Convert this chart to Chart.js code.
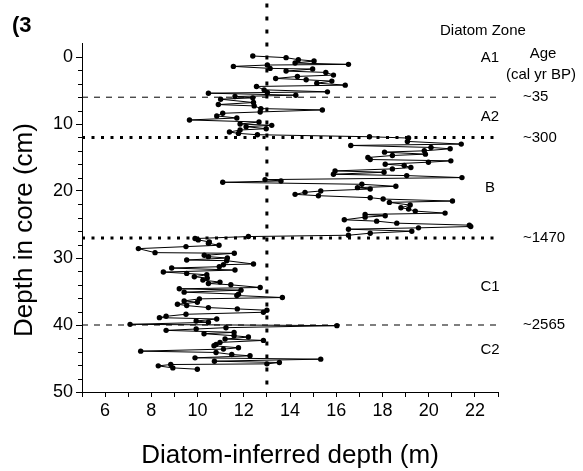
<!DOCTYPE html>
<html>
<head>
<meta charset="utf-8">
<script src="https://cdn.jsdelivr.net/npm/chart.js@4/dist/chart.umd.min.js"></script>
<style>
  html, body { margin: 0; padding: 0; background: #fff; }
</style>
</head>
<body>
<canvas id="chart" width="583" height="471"></canvas>
<script>
// depth in core (cm) and diatom-inferred depth (m)
const depthCm = [
  -0.15, 0.1, 0.4, 0.6, 0.9, 1.1, 1.2, 1.4, 1.7, 1.8, 2.1, 2.3, 2.7, 2.9, 3.2, 3.4, 3.6, 3.9, 4.2, 4.4,
  4.9, 5.2, 5.3, 5.4, 5.7, 5.9, 6.1, 6.3, 6.8, 7.1, 7.3, 7.7, 7.9, 8.2, 8.4, 8.8, 9.1, 9.4, 9.7, 10.0,
  10.2, 10.4, 10.7, 10.9, 11.2, 11.4, 11.6, 11.9, 12.1, 12.6, 13.0, 13.2, 13.5, 13.7, 14.0, 14.2, 14.5, 14.7, 15.0, 15.3,
  15.5, 15.7, 16.0, 16.2, 16.5, 16.7, 17.0, 17.2, 17.5, 17.7, 18.0, 18.3, 18.5, 18.7, 19.0, 19.3, 19.5, 19.7, 20.0, 20.2,
  20.5, 20.7, 21.0, 21.2, 21.5, 21.7, 22.1, 22.5, 22.7, 23.0, 23.3, 23.5, 23.7, 23.9, 24.3, 24.5, 24.8, 25.1, 25.3, 25.5,
  25.7, 26.0, 26.3, 26.6, 26.8, 27.1, 27.3, 27.6, 27.8, 28.1, 28.3, 28.6, 29.2, 29.3, 29.6, 29.8, 30.0, 30.3, 30.4, 30.9,
  31.0, 31.3, 31.5, 31.8, 32.1, 32.3, 32.5, 32.8, 33.0, 33.3, 33.6, 33.8, 34.0, 34.4, 34.6, 34.8, 35.1, 35.4, 35.6, 35.9,
  36.1, 36.4, 36.6, 36.9, 37.1, 37.4, 37.6, 37.8, 38.1, 38.4, 38.7, 38.9, 39.1, 39.4, 39.6, 39.9, 40.1, 40.4, 40.6, 40.8,
  41.1, 41.3, 41.6, 41.8, 42.1, 42.3, 42.6, 42.9, 43.1, 43.4, 43.6, 43.9, 44.1, 44.4, 44.6, 44.9, 45.1, 45.4, 45.6, 45.8,
  45.9, 46.1, 46.4, 46.6
];
const inferredDepth = [
  12.39, 13.83, 14.36, 15.04, 14.22, 16.53, 13.02, 11.55, 13.14, 14.98, 13.83, 15.55, 15.88, 14.32, 13.38, 14.7, 15.81, 15.16, 16.39, 12.55,
  12.88, 15.62, 13.02, 10.47, 14.25, 11.62, 12.39, 11.0, 12.42, 10.9, 12.45, 12.74, 15.4, 12.71, 11.09, 10.83, 11.7, 9.65, 12.66, 11.84,
  13.21, 12.1, 12.97, 11.84, 11.38, 11.77, 12.59, 17.44, 19.13, 19.08, 21.41, 16.63, 20.1, 20.93, 19.81, 18.09, 19.86, 18.43, 17.37, 17.47,
  20.96, 19.99, 18.12, 18.94, 19.23, 18.43, 15.95, 18.07, 15.88, 19.05, 21.44, 12.92, 13.61, 11.09, 17.11, 18.58, 16.92, 17.47, 15.33, 14.65,
  14.22, 15.23, 17.47, 18.03, 21.03, 18.3, 19.2, 18.8, 19.13, 19.42, 20.71, 17.25, 18.12, 17.25, 16.35, 17.75, 18.62, 21.76, 21.82, 19.56,
  16.53, 19.27, 17.47, 16.53, 12.2, 9.89, 10.03, 10.51, 10.47, 10.93, 9.5, 7.44, 8.16, 11.59, 10.29, 10.47, 11.29, 9.53, 11.26, 12.42,
  11.12, 10.94, 8.88, 11.62, 8.52, 9.53, 10.4, 9.86, 10.42, 10.23, 10.97, 10.47, 11.44, 12.71, 9.21, 11.88, 9.42, 11.77, 11.7, 13.67,
  10.08, 9.42, 9.99, 9.13, 9.53, 10.47, 11.72, 13.0, 12.85, 9.5, 8.64, 8.35, 10.83, 9.94, 10.47, 7.08, 16.03, 11.23, 9.94, 8.64,
  11.58, 10.28, 11.58, 12.2, 11.19, 12.85, 10.97, 10.8, 10.71, 11.77, 11.12, 7.54, 10.8, 11.48, 12.27, 9.89, 15.33, 10.73, 13.54, 13.0,
  8.84, 8.3, 8.93, 9.99
];

const xTickLabels = [6, 8, 10, 12, 14, 16, 18, 20, 22];
const yTickLabels = [0, 10, 20, 30, 40, 50];

// zone boundaries (cm) and their ages
const boundaryDepths = [6, 12, 27, 40];
const boundaryAges = ['~35', '~300', '~1470', '~2565'];
const dottedBoundaries = [12, 27];

const zoneLabels = ['A1', 'A2', 'B', 'C1', 'C2'];
const zoneLabelDepths = [0.15, 9, 19.5, 34.3, 43.7];

const optimumDepth = 13;   // vertical reference line (m)

const FONT = "'Liberation Sans', Arial, sans-serif";

const points = depthCm.map((d, i) => ({ x: inferredDepth[i], y: d }));

const boundarySets = boundaryDepths.map(d => {
  const dotted = dottedBoundaries.includes(d);
  return {
    data: [{ x: 5, y: d }, { x: 23, y: d }],
    showLine: true,
    borderColor: '#000',
    borderWidth: dotted ? 3 : 1,
    borderDash: dotted ? [3, 6.5] : [6, 6],
    pointRadius: 0
  };
});

const annotations = {
  id: 'annotations',
  afterDraw(chart) {
    const ctx = chart.ctx;
    const y = chart.scales.y;
    ctx.save();
    ctx.fillStyle = '#000';

    // minor ticks on depth axis
    ctx.strokeStyle = '#000';
    ctx.lineWidth = 1;
    for (let v = 2; v < 50; v += 2) {
      if (v % 10 === 0) continue;
      const py = Math.round(y.getPixelForValue(v)) + 0.5;
      ctx.beginPath();
      ctx.moveTo(chart.chartArea.left - 4, py);
      ctx.lineTo(chart.chartArea.left, py);
      ctx.stroke();
    }

    ctx.font = 'bold 22px ' + FONT;
    ctx.textAlign = 'left';
    ctx.textBaseline = 'alphabetic';
    ctx.fillText('(3', 12, 32);

    // axis titles
    ctx.font = '26px ' + FONT;
    ctx.textAlign = 'center';
    ctx.fillText('Diatom-inferred depth (m)', (chart.chartArea.left + chart.chartArea.right) / 2, 463);
    ctx.save();
    ctx.translate(32, 230);
    ctx.rotate(-Math.PI / 2);
    ctx.fillText('Depth in core (cm)', 0, 0);
    ctx.restore();

    ctx.font = '15px ' + FONT;
    ctx.textAlign = 'left';
    ctx.fillText('Diatom Zone', 440, 35);
    ctx.textAlign = 'center';
    ctx.fillText('Age', 543, 58);
    ctx.fillText('(cal yr BP)', 541, 79);

    ctx.textBaseline = 'middle';
    zoneLabels.forEach((t, i) => {
      ctx.fillText(t, 490, y.getPixelForValue(zoneLabelDepths[i]));
    });
    ctx.textAlign = 'left';
    boundaryAges.forEach((t, i) => {
      ctx.fillText(t, 523, y.getPixelForValue(boundaryDepths[i]));
    });
    ctx.restore();
  }
};

new Chart(document.getElementById('chart'), {
  type: 'scatter',
  data: {
    datasets: [
      {
        data: points,
        showLine: true,
        borderColor: '#000',
        borderWidth: 1,
        backgroundColor: '#000',
        pointBackgroundColor: '#000',
        pointBorderColor: '#000',
        pointRadius: 2.7,
        pointBorderWidth: 0
      },
      ...boundarySets,
      {
        data: [{ x: optimumDepth, y: -8 }, { x: optimumDepth, y: 50 }],
        showLine: true,
        borderColor: '#000',
        borderWidth: 3,
        borderDash: [4, 9],
        pointRadius: 0,
        clip: false
      }
    ]
  },
  options: {
    responsive: false,
    animation: false,
    layout: { padding: { left: 0, right: 85, top: 43.6, bottom: 0 } },
    plugins: { legend: { display: false }, tooltip: { enabled: false } },
    scales: {
      x: {
        type: 'linear',
        min: 5, max: 23,
        afterFit: s => { s.height = 79; },
        border: { color: '#000', width: 1 },
        grid: { drawOnChartArea: false, tickLength: 5, tickColor: '#000' },
        ticks: {
          stepSize: 1,
          autoSkip: false,
          maxRotation: 0,
          color: '#000',
          padding: 3,
          font: { family: FONT, size: 18 },
          callback: v => xTickLabels.includes(v) ? v : ''
        }
      },
      y: {
        type: 'linear',
        reverse: true,
        min: -2, max: 50,
        afterFit: s => { s.width = 82; },
        border: { color: '#000', width: 1 },
        grid: {
          drawOnChartArea: false,
          tickLength: 6,
          tickColor: c => yTickLabels.includes(c.tick.value) ? '#000' : 'transparent'
        },
        ticks: {
          stepSize: 2,
          autoSkip: false,
          color: '#000',
          padding: 3,
          font: { family: FONT, size: 18 },
          callback: v => yTickLabels.includes(v) ? v : ''
        }
      }
    }
  },
  plugins: [annotations]
});
</script>
</body>
</html>
